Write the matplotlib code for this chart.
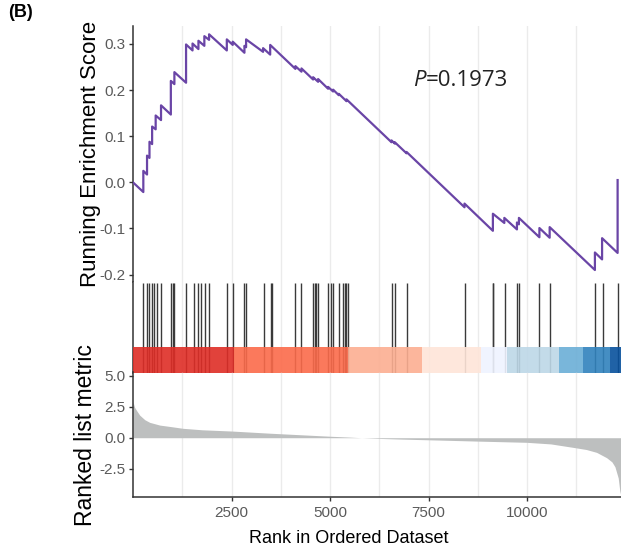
import matplotlib.pyplot as plt

plt.rcParams['font.family'] = ['Liberation Sans', 'DejaVu Sans']

# running enrichment score, vertices (rank, score)
es_rank = [0, 262, 262, 356, 356, 418, 418, 485, 485, 575, 575, 711, 711,
           960, 960, 1050, 1050, 1346, 1346, 1510, 1510, 1660, 1660, 1810, 1810,
           1930, 1930, 2380, 2380, 2530, 2530, 2827, 2827, 2869, 2869, 3300, 3300,
           3480, 3480, 4120, 4120, 4274, 4274, 4569, 4569, 4696, 4696, 4949, 4949,
           5076, 5076, 5221, 5221, 5416, 5416, 6558, 6558, 6642, 6642, 6939, 6939,
           8410, 8410, 9130, 9130, 9420, 9420, 9740, 9740, 9790, 9790,
           10310, 10310, 10570, 10570, 11718, 11718, 11900, 11900, 12294, 12294]
es_score = [0.000, -0.021, 0.025, 0.017, 0.058, 0.053, 0.088, 0.083, 0.121, 0.115, 0.145,
            0.135, 0.167, 0.147, 0.220, 0.213, 0.239, 0.216, 0.299, 0.286, 0.301,
            0.289, 0.307, 0.296, 0.317, 0.309, 0.321, 0.286, 0.310, 0.298, 0.305,
            0.281, 0.296, 0.293, 0.310, 0.283, 0.291, 0.277, 0.298, 0.246, 0.252,
            0.240, 0.247, 0.223, 0.228, 0.218, 0.224, 0.203, 0.207, 0.197, 0.201,
            0.189, 0.192, 0.176, 0.180, 0.087, 0.091, 0.084, 0.087, 0.063, 0.066,
            -0.054, -0.046, -0.105, -0.068, -0.088, -0.077, -0.102, -0.087,
            -0.091, -0.077, -0.119, -0.099, -0.120, -0.097, -0.190, -0.152,
            -0.167, -0.121, -0.153, 0.005]

# positions of gene-set members in the ranked list
hit_ranks = [246, 356, 415, 483, 542, 610, 711, 965, 1007, 1050, 1346, 1541,
             1642, 1727, 1828, 1939, 2378, 2538, 2827, 2869, 3317, 3503, 3520,
             4120, 4274, 4569, 4611, 4655, 4696, 4949, 5018, 5076, 5221, 5330,
             5373, 5416, 5457, 6558, 6642, 6939, 8410, 9121, 9137, 9434, 9746,
             9797, 10305, 10576, 11718, 11913, 12294]

# ranked list metric (rank, value)
metric_rank = [0, 40, 100, 170, 300, 423, 677, 1000, 1262, 1750, 2500, 3000,
               3500, 4000, 4500, 5000, 5500, 5800, 6200, 6800, 7784, 8716, 9985,
               10600, 11210, 11500, 11760, 12015, 12150, 12226, 12310, 12350, 12380]
metric_value = [2.9, 2.45, 2.15, 1.82, 1.45, 1.24, 1.02, 0.88, 0.76, 0.64, 0.54,
                0.45, 0.36, 0.28, 0.20, 0.12, 0.05, 0.0, -0.05, -0.11, -0.19,
                -0.27, -0.37, -0.50, -0.80, -0.95, -1.18, -1.61, -1.95, -2.34,
                -3.25, -4.3, -4.7]

band_edges = [0, 2562, 5457, 7320, 8825, 9492, 10812, 11406, 12099, 12380]
band_colors = ['#DE2D26', '#FB6A4A', '#FCAE91', '#FEE5D9', '#EFF3FF',
               '#BDD7E7', '#6BAED6', '#3182BD', '#08519C']

es_ticks = [-0.2, -0.1, 0.0, 0.1, 0.2, 0.3]
metric_ticks = [-2.5, 0.0, 2.5, 5.0]
rank_ticks = [2500, 5000, 7500, 10000]
grid_ranks = [1250, 2500, 3750, 5000, 6250, 7500, 8750, 10000, 11250]
p_value = 0.1973

W, H = 621, 555
fig = plt.figure(figsize=(W / 100, H / 100), dpi=100)
ax1 = fig.add_axes([133 / W, 1 - 282 / H, 488 / W, 256 / H])
ax2 = fig.add_axes([133 / W, 1 - 372.5 / H, 488 / W, 90.5 / H])
ax3 = fig.add_axes([133 / W, 1 - 497 / H, 488 / W, 124.5 / H])

spine_col = '#333333'
tick_col = '#5a5a5a'
for ax in (ax1, ax2, ax3):
    ax.set_xlim(0, 12380)
    for s in ('top', 'right', 'bottom'):
        ax.spines[s].set_visible(False)
    ax.spines['left'].set_color(spine_col)
    ax.spines['left'].set_linewidth(1.1)
    for g in grid_ranks:
        ax.axvline(g, color='#EBEBEB', lw=1.0, zorder=0)
    ax.tick_params(colors=spine_col, labelcolor=tick_col, labelsize=11,
                   length=3, width=1.0, pad=2.5)

# top panel: running score
ax1.plot(es_rank, es_score, color='#6A45A6', lw=1.6, zorder=3)
ax1.set_ylim(-0.216, 0.339)
ax1.set_yticks(es_ticks)
ax1.set_yticklabels([f'{v:.1f}' for v in es_ticks])
ax1.set_xticks([])
ax1.set_ylabel('Running Enrichment Score', fontsize=16)
ax1.yaxis.set_label_coords(-0.066, 0.5)
t1 = ax1.text(7099, 0.208, 'P', fontsize=16, style='italic', color='#222222',
              family=['Open Sans', 'DejaVu Sans'], va='baseline')
ax1.annotate(f'={p_value:.4f}', xy=(1, 0), xycoords=t1, va='bottom',
             fontsize=16, color='#222222', family=['Open Sans', 'DejaVu Sans'])

# middle panel: hits and colour band
ax2.set_ylim(0, 1)
ax2.vlines(hit_ranks, 0, 0.99, color='#3a3a3a', lw=1.0, zorder=2)
for x0, x1, c in zip(band_edges[:-1], band_edges[1:], band_colors):
    ax2.axvspan(x0, x1, ymin=0, ymax=0.28, color=c, alpha=0.9, lw=0, zorder=3)
ax2.set_xticks([])
ax2.set_yticks([])

# bottom panel: ranked list metric
ax3.fill_between(metric_rank, 0, metric_value, color='#BDBFBF', lw=0, zorder=2)
ax3.set_ylim(-4.78, 5.26)
ax3.set_yticks(metric_ticks)
ax3.set_yticklabels([f'{v:.1f}' for v in metric_ticks])
ax3.set_xticks(rank_ticks)
ax3.set_xticklabels([str(v) for v in rank_ticks])
ax3.tick_params(axis='x', pad=3.5)
ax3.spines['bottom'].set_visible(True)
ax3.spines['bottom'].set_color(spine_col)
ax3.spines['bottom'].set_linewidth(1.1)
ax3.set_ylabel('Ranked list metric', fontsize=16.5)
ax3.yaxis.set_label_coords(-0.074, 0.5)
ax3.set_xlabel('Rank in Ordered Dataset', fontsize=13)
ax3.xaxis.set_label_coords(0.443, -0.262)

fig.text(8 / W, 1 - 4 / H, '(B)', fontsize=13, fontweight='bold', va='top', ha='left')

fig.savefig('out.png', dpi=100)
